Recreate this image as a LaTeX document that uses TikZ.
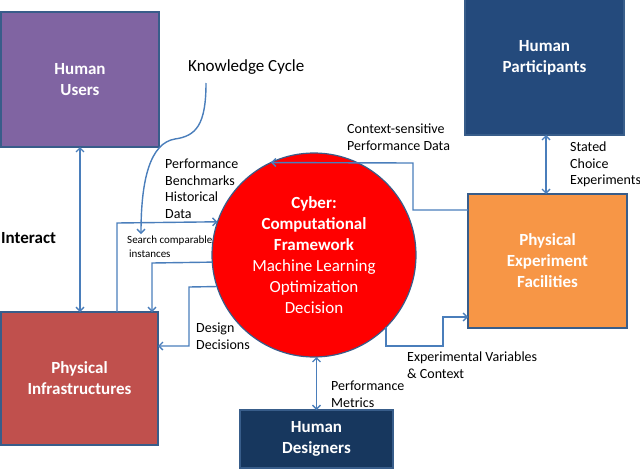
\documentclass[tikz,border=0pt]{standalone}
\usepackage{fontspec}
\setmainfont{Carlito}
\usetikzlibrary{arrows.meta}
\definecolor{bord}{HTML}{385D8A}
\definecolor{lnc}{HTML}{4A7EBB}
\definecolor{purp}{HTML}{8064A2}
\definecolor{redb}{HTML}{C0504D}
\definecolor{dblue}{HTML}{244A7C}
\definecolor{orng}{HTML}{F79646}
\definecolor{navy}{HTML}{17375E}
\begin{document}
\begin{tikzpicture}[x=1pt,y=-1pt,
  box/.style={draw=bord,line width=1.2pt,text=white,font=\bfseries\fontsize{17}{21}\selectfont,align=center,inner sep=0pt,outer sep=0pt},
  lbl/.style={align=left,anchor=north west,inner sep=0pt,font=\fontsize{14}{16.5}\selectfont},
  tip/.tip={Straight Barb[length=4pt,width=8pt]},
  arr/.style={draw=lnc,line width=1.4pt,-tip},
  darr/.style={draw=lnc,line width=1.4pt,tip-tip},
]
\useasboundingbox (0,0) rectangle (640,471);
% boxes
\node[box,fill=purp,minimum width=158pt,minimum height=135pt] (users) at (80,79.5) {Human\\Users};
\node[box,fill=redb,minimum width=157pt,minimum height=133pt] (infra) at (79.5,378.5) {Physical\\Infrastructures};
\node[box,fill=dblue,minimum width=159pt,minimum height=155pt] (part) at (544.5,57.5) {Human\\Participants};
\node[box,fill=orng,minimum width=159pt,minimum height=134pt] (fac) at (547.5,261) {Physical\\Experiment\\Facilities};
\node[box,fill=navy,minimum width=153pt,minimum height=58pt] (des) at (316.5,439) {Human\\Designers};
% circle
\node[circle,fill=red,draw=bord,line width=1.2pt,minimum size=204pt,inner sep=0pt,outer sep=0pt,text=white,align=center,font=\fontsize{17}{21}\selectfont] (cyber) at (314,255)
  {\textbf{Cyber:}\\\textbf{Computational}\\\textbf{Framework}\\Machine Learning\\Optimization\\Decision};
% labels
\node[anchor=west,inner sep=0pt,font=\fontsize{17}{21}\selectfont] (kc) at (188,67) {Knowledge Cycle};
\node[anchor=west,inner sep=0pt,font=\bfseries\fontsize{17}{21}\selectfont] (interact) at (1,238) {Interact};
\node[lbl] (pb) at (165,159) {Performance\\Benchmarks\\Historical\\Data};
\node[lbl,font=\fontsize{11}{14}\selectfont] (search) at (127,236) {Search comparable\\\,instances};
\node[lbl] (ctx) at (347,124) {Context-sensitive\\Performance Data};
\node[lbl] (stated) at (570,142) {Stated\\Choice\\Experiments};
\node[lbl] (dd) at (196,323) {Design\\Decisions};
\node[lbl] (pm) at (331,381) {Performance\\Metrics};
\node[lbl] (ev) at (407,352) {Experimental Variables\\\& Context};
% coordinates
\coordinate (k0) at (206,83);
\coordinate (k1) at (141,234);
\coordinate (a1) at (117,223);
\coordinate (b1) at (152,263);
\coordinate (c1) at (189,287);
\coordinate (c2) at (189,346);
\coordinate (e1) at (386,346);
\coordinate (e2) at (443,346);
\coordinate (e3) at (443,317);
\coordinate (f1) at (413,210);
\coordinate (f2) at (413,163);
\coordinate (g) at (546,0);
% connectors
\draw[darr] (users.south) -- (infra.north -| users.south);
\draw[darr] (part.south -| g) -- (fac.north -| g);
\draw[darr] (cyber.south -| des.north) -- (des.north);
\draw[arr] (k0) .. controls (206,125) and (196,136) .. (175,139) .. controls (150,143) and (141,180) .. (k1);
\draw[arr] (infra.north -| a1) -- (a1) -- (cyber.161.7);
\draw[arr] (cyber.184.5) -- (b1) -- (infra.north -| b1);
\draw[arr] (cyber.198.3) -- (c1) -- (c2) -- (c2 -| infra.east);
\draw[arr] (cyber.-45) -- (cyber.-45 |- e1) -- (e2) -- (e3) -- (e3 -| fac.west);
\draw[arr] (f1 -| fac.west) -- (f1) -- (f2) -- (cyber.115.6);
\end{tikzpicture}
\end{document}
